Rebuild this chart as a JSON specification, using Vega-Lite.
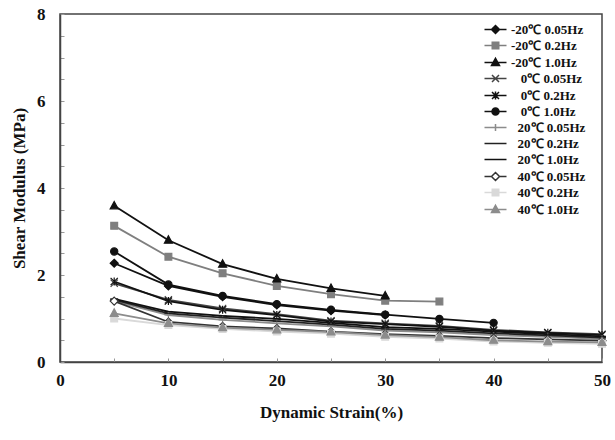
{
  "$schema": "https://vega.github.io/schema/vega-lite/v6.json",
  "width": 542,
  "height": 348,
  "autosize": {"type": "none"},
  "padding": {"left": 60, "top": 14, "right": 13, "bottom": 78},
  "background": "white",
  "config": {
    "view": {"stroke": "#444", "strokeWidth": 1.5},
    "font": "Liberation Serif",
    "axis": {
      "grid": false,
      "domainColor": "#444",
      "domainWidth": 1.5,
      "tickColor": "#999",
      "tickWidth": 1,
      "tickSize": -4,
      "labelFont": "Liberation Serif",
      "labelFontWeight": "bold",
      "labelFontSize": 17,
      "labelColor": "#111",
      "titleFont": "Liberation Serif",
      "titleFontWeight": "bold",
      "titleFontSize": 17,
      "titleColor": "#111",
      "labelFlush": false,
      "labelOverlap": false
    },
    "legend": {
      "orient": "none",
      "legendX": 429,
      "legendY": 9,
      "padding": 0,
      "symbolSize": 100,
      "symbolStrokeWidth": 1.5,
      "symbolOpacity": 1,
      "symbolFillColor": "#111111",
      "labelFont": "Liberation Serif",
      "labelFontWeight": "bold",
      "labelFontSize": 13,
      "labelColor": "#111",
      "labelOffset": 9,
      "rowPadding": 2,
      "labelLimit": 200
    }
  },
  "data": {
    "values": [
      {"s": "-20℃ 0.05Hz", "x": 5, "y": 2.27}, {"s": "-20℃ 0.05Hz", "x": 10, "y": 1.75}, {"s": "-20℃ 0.05Hz", "x": 15, "y": 1.5}, {"s": "-20℃ 0.05Hz", "x": 20, "y": 1.31}, {"s": "-20℃ 0.05Hz", "x": 25, "y": 1.18}, {"s": "-20℃ 0.05Hz", "x": 30, "y": 1.08},
      {"s": "-20℃ 0.2Hz", "x": 5, "y": 3.13}, {"s": "-20℃ 0.2Hz", "x": 10, "y": 2.42}, {"s": "-20℃ 0.2Hz", "x": 15, "y": 2.04}, {"s": "-20℃ 0.2Hz", "x": 20, "y": 1.75}, {"s": "-20℃ 0.2Hz", "x": 25, "y": 1.56}, {"s": "-20℃ 0.2Hz", "x": 30, "y": 1.41}, {"s": "-20℃ 0.2Hz", "x": 35, "y": 1.39},
      {"s": "-20℃ 1.0Hz", "x": 5, "y": 3.59}, {"s": "-20℃ 1.0Hz", "x": 10, "y": 2.8}, {"s": "-20℃ 1.0Hz", "x": 15, "y": 2.25}, {"s": "-20℃ 1.0Hz", "x": 20, "y": 1.91}, {"s": "-20℃ 1.0Hz", "x": 25, "y": 1.69}, {"s": "-20℃ 1.0Hz", "x": 30, "y": 1.52},
      {"s": "\u200b\u00a0\u00a0\u00a00℃ 0.05Hz", "x": 5, "y": 1.81}, {"s": "\u200b\u00a0\u00a0\u00a00℃ 0.05Hz", "x": 10, "y": 1.43}, {"s": "\u200b\u00a0\u00a0\u00a00℃ 0.05Hz", "x": 15, "y": 1.23}, {"s": "\u200b\u00a0\u00a0\u00a00℃ 0.05Hz", "x": 20, "y": 1.1}, {"s": "\u200b\u00a0\u00a0\u00a00℃ 0.05Hz", "x": 25, "y": 0.95}, {"s": "\u200b\u00a0\u00a0\u00a00℃ 0.05Hz", "x": 30, "y": 0.89}, {"s": "\u200b\u00a0\u00a0\u00a00℃ 0.05Hz", "x": 35, "y": 0.83}, {"s": "\u200b\u00a0\u00a0\u00a00℃ 0.05Hz", "x": 40, "y": 0.74}, {"s": "\u200b\u00a0\u00a0\u00a00℃ 0.05Hz", "x": 45, "y": 0.68}, {"s": "\u200b\u00a0\u00a0\u00a00℃ 0.05Hz", "x": 50, "y": 0.64},
      {"s": "\u200b\u00a0\u00a0\u00a00℃ 0.2Hz", "x": 5, "y": 1.85}, {"s": "\u200b\u00a0\u00a0\u00a00℃ 0.2Hz", "x": 10, "y": 1.4}, {"s": "\u200b\u00a0\u00a0\u00a00℃ 0.2Hz", "x": 15, "y": 1.2}, {"s": "\u200b\u00a0\u00a0\u00a00℃ 0.2Hz", "x": 20, "y": 1.08}, {"s": "\u200b\u00a0\u00a0\u00a00℃ 0.2Hz", "x": 25, "y": 0.93}, {"s": "\u200b\u00a0\u00a0\u00a00℃ 0.2Hz", "x": 30, "y": 0.87}, {"s": "\u200b\u00a0\u00a0\u00a00℃ 0.2Hz", "x": 35, "y": 0.81}, {"s": "\u200b\u00a0\u00a0\u00a00℃ 0.2Hz", "x": 40, "y": 0.72}, {"s": "\u200b\u00a0\u00a0\u00a00℃ 0.2Hz", "x": 45, "y": 0.67}, {"s": "\u200b\u00a0\u00a0\u00a00℃ 0.2Hz", "x": 50, "y": 0.62},
      {"s": "\u200b\u00a0\u00a0\u00a00℃ 1.0Hz", "x": 5, "y": 2.54}, {"s": "\u200b\u00a0\u00a0\u00a00℃ 1.0Hz", "x": 10, "y": 1.78}, {"s": "\u200b\u00a0\u00a0\u00a00℃ 1.0Hz", "x": 15, "y": 1.52}, {"s": "\u200b\u00a0\u00a0\u00a00℃ 1.0Hz", "x": 20, "y": 1.33}, {"s": "\u200b\u00a0\u00a0\u00a00℃ 1.0Hz", "x": 25, "y": 1.2}, {"s": "\u200b\u00a0\u00a0\u00a00℃ 1.0Hz", "x": 30, "y": 1.09}, {"s": "\u200b\u00a0\u00a0\u00a00℃ 1.0Hz", "x": 35, "y": 0.99}, {"s": "\u200b\u00a0\u00a0\u00a00℃ 1.0Hz", "x": 40, "y": 0.9},
      {"s": "\u200b\u00a0\u00a020℃ 0.05Hz", "x": 5, "y": 1.4}, {"s": "\u200b\u00a0\u00a020℃ 0.05Hz", "x": 10, "y": 1.08}, {"s": "\u200b\u00a0\u00a020℃ 0.05Hz", "x": 15, "y": 0.97}, {"s": "\u200b\u00a0\u00a020℃ 0.05Hz", "x": 20, "y": 0.89}, {"s": "\u200b\u00a0\u00a020℃ 0.05Hz", "x": 25, "y": 0.82}, {"s": "\u200b\u00a0\u00a020℃ 0.05Hz", "x": 30, "y": 0.72}, {"s": "\u200b\u00a0\u00a020℃ 0.05Hz", "x": 35, "y": 0.68}, {"s": "\u200b\u00a0\u00a020℃ 0.05Hz", "x": 40, "y": 0.62}, {"s": "\u200b\u00a0\u00a020℃ 0.05Hz", "x": 45, "y": 0.58}, {"s": "\u200b\u00a0\u00a020℃ 0.05Hz", "x": 50, "y": 0.53},
      {"s": "\u200b\u00a0\u00a020℃ 0.2Hz", "x": 5, "y": 1.43}, {"s": "\u200b\u00a0\u00a020℃ 0.2Hz", "x": 10, "y": 1.12}, {"s": "\u200b\u00a0\u00a020℃ 0.2Hz", "x": 15, "y": 1.02}, {"s": "\u200b\u00a0\u00a020℃ 0.2Hz", "x": 20, "y": 0.94}, {"s": "\u200b\u00a0\u00a020℃ 0.2Hz", "x": 25, "y": 0.86}, {"s": "\u200b\u00a0\u00a020℃ 0.2Hz", "x": 30, "y": 0.76}, {"s": "\u200b\u00a0\u00a020℃ 0.2Hz", "x": 35, "y": 0.72}, {"s": "\u200b\u00a0\u00a020℃ 0.2Hz", "x": 40, "y": 0.66}, {"s": "\u200b\u00a0\u00a020℃ 0.2Hz", "x": 45, "y": 0.61}, {"s": "\u200b\u00a0\u00a020℃ 0.2Hz", "x": 50, "y": 0.56},
      {"s": "\u200b\u00a0\u00a020℃ 1.0Hz", "x": 5, "y": 1.45}, {"s": "\u200b\u00a0\u00a020℃ 1.0Hz", "x": 10, "y": 1.16}, {"s": "\u200b\u00a0\u00a020℃ 1.0Hz", "x": 15, "y": 1.06}, {"s": "\u200b\u00a0\u00a020℃ 1.0Hz", "x": 20, "y": 0.99}, {"s": "\u200b\u00a0\u00a020℃ 1.0Hz", "x": 25, "y": 0.9}, {"s": "\u200b\u00a0\u00a020℃ 1.0Hz", "x": 30, "y": 0.8}, {"s": "\u200b\u00a0\u00a020℃ 1.0Hz", "x": 35, "y": 0.76}, {"s": "\u200b\u00a0\u00a020℃ 1.0Hz", "x": 40, "y": 0.7}, {"s": "\u200b\u00a0\u00a020℃ 1.0Hz", "x": 45, "y": 0.64}, {"s": "\u200b\u00a0\u00a020℃ 1.0Hz", "x": 50, "y": 0.59},
      {"s": "\u200b\u00a0\u00a040℃ 0.05Hz", "x": 5, "y": 1.4}, {"s": "\u200b\u00a0\u00a040℃ 0.05Hz", "x": 10, "y": 0.92}, {"s": "\u200b\u00a0\u00a040℃ 0.05Hz", "x": 15, "y": 0.82}, {"s": "\u200b\u00a0\u00a040℃ 0.05Hz", "x": 20, "y": 0.77}, {"s": "\u200b\u00a0\u00a040℃ 0.05Hz", "x": 25, "y": 0.7}, {"s": "\u200b\u00a0\u00a040℃ 0.05Hz", "x": 30, "y": 0.64}, {"s": "\u200b\u00a0\u00a040℃ 0.05Hz", "x": 35, "y": 0.6}, {"s": "\u200b\u00a0\u00a040℃ 0.05Hz", "x": 40, "y": 0.55}, {"s": "\u200b\u00a0\u00a040℃ 0.05Hz", "x": 45, "y": 0.52}, {"s": "\u200b\u00a0\u00a040℃ 0.05Hz", "x": 50, "y": 0.49},
      {"s": "\u200b\u00a0\u00a040℃ 0.2Hz", "x": 5, "y": 1.0}, {"s": "\u200b\u00a0\u00a040℃ 0.2Hz", "x": 10, "y": 0.85}, {"s": "\u200b\u00a0\u00a040℃ 0.2Hz", "x": 15, "y": 0.76}, {"s": "\u200b\u00a0\u00a040℃ 0.2Hz", "x": 20, "y": 0.7}, {"s": "\u200b\u00a0\u00a040℃ 0.2Hz", "x": 25, "y": 0.65}, {"s": "\u200b\u00a0\u00a040℃ 0.2Hz", "x": 30, "y": 0.58}, {"s": "\u200b\u00a0\u00a040℃ 0.2Hz", "x": 35, "y": 0.54}, {"s": "\u200b\u00a0\u00a040℃ 0.2Hz", "x": 40, "y": 0.47}, {"s": "\u200b\u00a0\u00a040℃ 0.2Hz", "x": 45, "y": 0.44}, {"s": "\u200b\u00a0\u00a040℃ 0.2Hz", "x": 50, "y": 0.42},
      {"s": "\u200b\u00a0\u00a040℃ 1.0Hz", "x": 5, "y": 1.12}, {"s": "\u200b\u00a0\u00a040℃ 1.0Hz", "x": 10, "y": 0.89}, {"s": "\u200b\u00a0\u00a040℃ 1.0Hz", "x": 15, "y": 0.79}, {"s": "\u200b\u00a0\u00a040℃ 1.0Hz", "x": 20, "y": 0.74}, {"s": "\u200b\u00a0\u00a040℃ 1.0Hz", "x": 25, "y": 0.69}, {"s": "\u200b\u00a0\u00a040℃ 1.0Hz", "x": 30, "y": 0.62}, {"s": "\u200b\u00a0\u00a040℃ 1.0Hz", "x": 35, "y": 0.57}, {"s": "\u200b\u00a0\u00a040℃ 1.0Hz", "x": 40, "y": 0.5}, {"s": "\u200b\u00a0\u00a040℃ 1.0Hz", "x": 45, "y": 0.47}, {"s": "\u200b\u00a0\u00a040℃ 1.0Hz", "x": 50, "y": 0.45}
    ]
  },
  "encoding": {
    "x": {
      "field": "x", "type": "quantitative",
      "scale": {"domain": [0, 50], "nice": false, "zero": false},
      "axis": {
        "values": [0, 5, 10, 15, 20, 25, 30, 35, 40, 45, 50],
        "labelExpr": "datum.value % 10 === 0 ? format(datum.value, 'd') : ''",
        "labelPadding": 14,
        "title": "Dynamic Strain(%)",
        "titlePadding": 16
      }
    },
    "y": {
      "field": "y", "type": "quantitative",
      "scale": {"domain": [0, 8], "nice": false},
      "axis": {
        "values": [0, 0.5, 1, 1.5, 2, 2.5, 3, 3.5, 4, 4.5, 5, 5.5, 6, 6.5, 7, 7.5, 8],
        "labelExpr": "datum.value % 2 === 0 ? format(datum.value, 'd') : ''",
        "labelPadding": 19,
        "title": "Shear Modulus (MPa)",
        "titlePadding": 8
      }
    }
  },
  "layer": [
    {
      "mark": {"type": "line"},
      "encoding": {
        "detail": {"field": "s"},
        "color": {
          "field": "s", "type": "nominal", "legend": null,
          "scale": {
            "domain": ["-20℃ 0.05Hz", "-20℃ 0.2Hz", "-20℃ 1.0Hz", "\u200b\u00a0\u00a0\u00a00℃ 0.05Hz", "\u200b\u00a0\u00a0\u00a00℃ 0.2Hz", "\u200b\u00a0\u00a0\u00a00℃ 1.0Hz", "\u200b\u00a0\u00a020℃ 0.05Hz", "\u200b\u00a0\u00a020℃ 0.2Hz", "\u200b\u00a0\u00a020℃ 1.0Hz", "\u200b\u00a0\u00a040℃ 0.05Hz", "\u200b\u00a0\u00a040℃ 0.2Hz", "\u200b\u00a0\u00a040℃ 1.0Hz"],
            "range": ["#111111", "#7f7f7f", "#111111", "#444444", "#111111", "#111111", "#8c8c8c", "#222222", "#111111", "#333333", "#d9d9d9", "#8c8c8c"]
          }
        },
        "strokeWidth": {
          "field": "s", "type": "nominal", "legend": null,
          "scale": {
            "domain": ["-20℃ 0.05Hz", "-20℃ 0.2Hz", "-20℃ 1.0Hz", "\u200b\u00a0\u00a0\u00a00℃ 0.05Hz", "\u200b\u00a0\u00a0\u00a00℃ 0.2Hz", "\u200b\u00a0\u00a0\u00a00℃ 1.0Hz", "\u200b\u00a0\u00a020℃ 0.05Hz", "\u200b\u00a0\u00a020℃ 0.2Hz", "\u200b\u00a0\u00a020℃ 1.0Hz", "\u200b\u00a0\u00a040℃ 0.05Hz", "\u200b\u00a0\u00a040℃ 0.2Hz", "\u200b\u00a0\u00a040℃ 1.0Hz"],
            "range": [1.8, 1.8, 1.8, 1.5, 1.8, 1.8, 1.3, 1.8, 2.4, 1.6, 1.8, 1.8]
          }
        }
      }
    },
    {
      "mark": {"type": "point", "size": 64, "strokeWidth": 1.2, "opacity": 1, "filled": true},
      "encoding": {
        "shape": {
          "field": "s", "type": "nominal", "legend": null,
          "scale": {
            "domain": ["-20℃ 0.05Hz", "-20℃ 0.2Hz", "-20℃ 1.0Hz", "\u200b\u00a0\u00a0\u00a00℃ 0.05Hz", "\u200b\u00a0\u00a0\u00a00℃ 0.2Hz", "\u200b\u00a0\u00a0\u00a00℃ 1.0Hz", "\u200b\u00a0\u00a020℃ 0.05Hz", "\u200b\u00a0\u00a020℃ 0.2Hz", "\u200b\u00a0\u00a020℃ 1.0Hz", "\u200b\u00a0\u00a040℃ 0.05Hz", "\u200b\u00a0\u00a040℃ 0.2Hz", "\u200b\u00a0\u00a040℃ 1.0Hz"],
            "range": [
              "M0,-1L1,0L0,1L-1,0Z",
              "M-0.85,-0.85H0.85V0.85H-0.85Z",
              "M0,-1.1L1,0.75H-1Z",
              "M-0.9,-0.9L0.9,0.9M-0.9,0.9L0.9,-0.9",
              "M0,-1V1M-0.9,-0.9L0.9,0.9M-0.9,0.9L0.9,-0.9",
              "M-0.9,0A0.9,0.9,0,1,0,0.9,0A0.9,0.9,0,1,0,-0.9,0Z",
              "M-1,0H1M0,-1V1",
              "M-1,0H1",
              "M-1,0H1",
              "M0,-1L1,0L0,1L-1,0Z",
              "M-0.85,-0.85H0.85V0.85H-0.85Z",
              "M0,-1.1L1,0.75H-1Z"
            ]
          }
        },
        "fill": {
          "field": "s", "type": "nominal", "legend": null,
          "scale": {
            "domain": ["-20℃ 0.05Hz", "-20℃ 0.2Hz", "-20℃ 1.0Hz", "\u200b\u00a0\u00a0\u00a00℃ 0.05Hz", "\u200b\u00a0\u00a0\u00a00℃ 0.2Hz", "\u200b\u00a0\u00a0\u00a00℃ 1.0Hz", "\u200b\u00a0\u00a020℃ 0.05Hz", "\u200b\u00a0\u00a020℃ 0.2Hz", "\u200b\u00a0\u00a020℃ 1.0Hz", "\u200b\u00a0\u00a040℃ 0.05Hz", "\u200b\u00a0\u00a040℃ 0.2Hz", "\u200b\u00a0\u00a040℃ 1.0Hz"],
            "range": ["#111111", "#7f7f7f", "#111111", "#444444", "#111111", "#111111", "#8c8c8c", "#222222", "#111111", "#ffffff", "#d9d9d9", "#8c8c8c"]
          }
        },
        "stroke": {
          "field": "s", "type": "nominal", "legend": null,
          "scale": {
            "domain": ["-20℃ 0.05Hz", "-20℃ 0.2Hz", "-20℃ 1.0Hz", "\u200b\u00a0\u00a0\u00a00℃ 0.05Hz", "\u200b\u00a0\u00a0\u00a00℃ 0.2Hz", "\u200b\u00a0\u00a0\u00a00℃ 1.0Hz", "\u200b\u00a0\u00a020℃ 0.05Hz", "\u200b\u00a0\u00a020℃ 0.2Hz", "\u200b\u00a0\u00a020℃ 1.0Hz", "\u200b\u00a0\u00a040℃ 0.05Hz", "\u200b\u00a0\u00a040℃ 0.2Hz", "\u200b\u00a0\u00a040℃ 1.0Hz"],
            "range": ["#111111", "#7f7f7f", "#111111", "#444444", "#111111", "#111111", "#8c8c8c", "#222222", "#111111", "#333333", "#d9d9d9", "#8c8c8c"]
          }
        }
      }
    },
    {
      "mark": {"type": "point", "opacity": 0, "filled": true},
      "encoding": {
        "shape": {
          "field": "s", "type": "nominal", "title": null,
          "scale": {
            "domain": ["-20℃ 0.05Hz", "-20℃ 0.2Hz", "-20℃ 1.0Hz", "\u200b\u00a0\u00a0\u00a00℃ 0.05Hz", "\u200b\u00a0\u00a0\u00a00℃ 0.2Hz", "\u200b\u00a0\u00a0\u00a00℃ 1.0Hz", "\u200b\u00a0\u00a020℃ 0.05Hz", "\u200b\u00a0\u00a020℃ 0.2Hz", "\u200b\u00a0\u00a020℃ 1.0Hz", "\u200b\u00a0\u00a040℃ 0.05Hz", "\u200b\u00a0\u00a040℃ 0.2Hz", "\u200b\u00a0\u00a040℃ 1.0Hz"],
            "range": [
              "M-2.2,0H2.2M0,-0.8L0.8,0L0,0.8L-0.8,0Z",
              "M-2.2,0H2.2M-0.65,-0.65H0.65V0.65H-0.65Z",
              "M-2.2,0H2.2M0,-0.85L0.8,0.6H-0.8Z",
              "M-2.2,0H2.2M-0.7,-0.7L0.7,0.7M-0.7,0.7L0.7,-0.7",
              "M-2.2,0H2.2M0,-0.8V0.8M-0.7,-0.7L0.7,0.7M-0.7,0.7L0.7,-0.7",
              "M-2.2,0H2.2M-0.7,0A0.7,0.7,0,1,0,0.7,0A0.7,0.7,0,1,0,-0.7,0Z",
              "M-2.2,0H2.2M0,-0.7V0.7",
              "M-2.2,0H2.2",
              "M-2.2,0H2.2",
              "M-2.2,0H-0.8M0.8,0H2.2M0,-0.8L0.8,0L0,0.8L-0.8,0Z",
              "M-2.2,0H2.2M-0.65,-0.65H0.65V0.65H-0.65Z",
              "M-2.2,0H2.2M0,-0.85L0.8,0.6H-0.8Z"
            ]
          }
        },
        "fill": {
          "field": "s", "type": "nominal", "title": null,
          "scale": {
            "domain": ["-20℃ 0.05Hz", "-20℃ 0.2Hz", "-20℃ 1.0Hz", "\u200b\u00a0\u00a0\u00a00℃ 0.05Hz", "\u200b\u00a0\u00a0\u00a00℃ 0.2Hz", "\u200b\u00a0\u00a0\u00a00℃ 1.0Hz", "\u200b\u00a0\u00a020℃ 0.05Hz", "\u200b\u00a0\u00a020℃ 0.2Hz", "\u200b\u00a0\u00a020℃ 1.0Hz", "\u200b\u00a0\u00a040℃ 0.05Hz", "\u200b\u00a0\u00a040℃ 0.2Hz", "\u200b\u00a0\u00a040℃ 1.0Hz"],
            "range": ["#111111", "#7f7f7f", "#111111", "#444444", "#111111", "#111111", "#8c8c8c", "#222222", "#111111", "#ffffff", "#d9d9d9", "#8c8c8c"]
          }
        },
        "stroke": {
          "field": "s", "type": "nominal", "title": null,
          "scale": {
            "domain": ["-20℃ 0.05Hz", "-20℃ 0.2Hz", "-20℃ 1.0Hz", "\u200b\u00a0\u00a0\u00a00℃ 0.05Hz", "\u200b\u00a0\u00a0\u00a00℃ 0.2Hz", "\u200b\u00a0\u00a0\u00a00℃ 1.0Hz", "\u200b\u00a0\u00a020℃ 0.05Hz", "\u200b\u00a0\u00a020℃ 0.2Hz", "\u200b\u00a0\u00a020℃ 1.0Hz", "\u200b\u00a0\u00a040℃ 0.05Hz", "\u200b\u00a0\u00a040℃ 0.2Hz", "\u200b\u00a0\u00a040℃ 1.0Hz"],
            "range": ["#111111", "#7f7f7f", "#111111", "#444444", "#111111", "#111111", "#8c8c8c", "#222222", "#111111", "#333333", "#d9d9d9", "#8c8c8c"]
          }
        }
      }
    }
  ],
  "resolve": {"scale": {"shape": "independent", "fill": "independent", "stroke": "independent"}}
}
